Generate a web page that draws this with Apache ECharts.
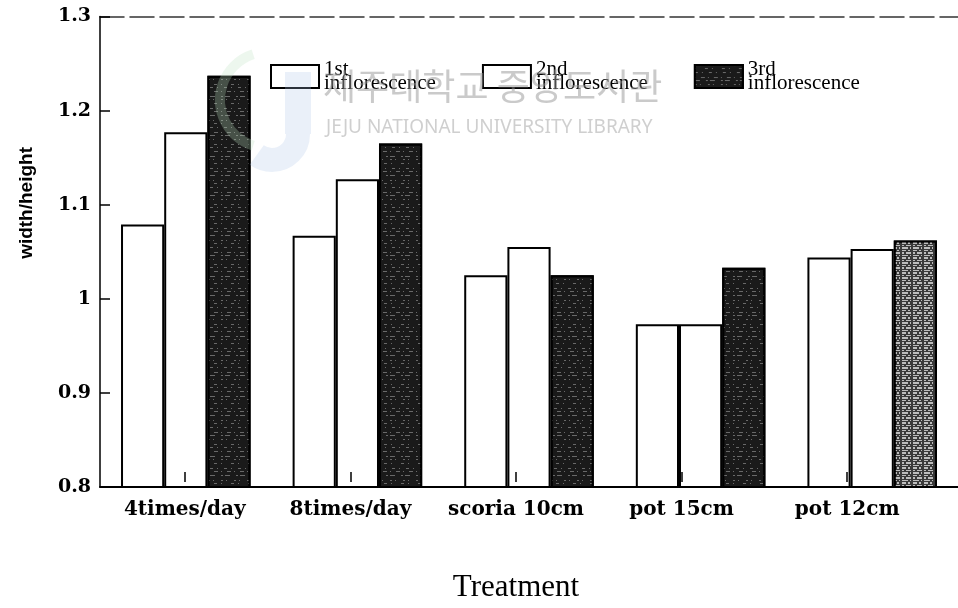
<!DOCTYPE html>
<html>
<head>
<meta charset="utf-8">
<script src="https://cdn.jsdelivr.net/npm/echarts@6/dist/echarts.min.js"></script>
<style>
html,body{margin:0;padding:0;background:#fff;}
#chart{width:958px;height:608px;}
</style>
</head>
<body>
<div id="chart"></div>
<script>
const categories = ['4times/day', '8times/day', 'scoria 10cm', 'pot 15cm', 'pot 12cm'];
const firstInflorescence = [1.079, 1.067, 1.025, 0.973, 1.044];
const secondInflorescence = [1.177, 1.127, 1.055, 0.973, 1.053];
const thirdInflorescence = [1.237, 1.165, 1.025, 1.033, 1.062];
const seriesNames = ['1st\ninflorescence', '2nd\ninflorescence', '3rd\ninflorescence'];
const yTickLabels = ['0.8', '0.9', '1', '1.1', '1.2', '1.3'];
const yAxisTitle = 'width/height';
const xAxisTitle = 'Treatment';
const watermarkKo = '제주대학교 중앙도서관';
const watermarkEn = 'JEJU NATIONAL UNIVERSITY LIBRARY';

const chart = echarts.init(document.getElementById('chart'), null, {renderer: 'canvas'});

const darkDecal = {
  symbol: 'rect', symbolSize: 1, color: 'rgba(235,235,235,0.38)',
  dashArrayX: [[3, 4, 1, 6], [1, 5, 4, 3], [5, 6, 2, 2], [2, 3, 1, 7], [1, 9, 3, 4]],
  dashArrayY: [1, 2, 1, 3, 1, 4], rotation: 0
};
const lightDecal = {
  symbol: 'rect', symbolSize: 1, color: 'rgba(245,245,245,0.7)',
  dashArrayX: [[4, 2, 2, 3], [2, 2, 5, 2], [6, 2, 1, 2]],
  dashArrayY: [1, 1, 2, 1], rotation: 0
};

const whiteBar = {color: '#ffffff', borderColor: '#000', borderWidth: 2};
const darkBar = {color: '#1a1a1a', borderColor: '#000', borderWidth: 2, decal: darkDecal};

const thirdData = thirdInflorescence.map((v, i) => i === 4
  ? {value: v, itemStyle: {color: '#3a3a3a', decal: lightDecal}}
  : v);

const serif = 'DejaVu Serif';

chart.setOption({
  animation: false,
  backgroundColor: '#ffffff',
  grid: [
    {left: 100, top: 16.5, width: 864, bottom: 121, containLabel: false},
    {left: 102, top: 16.5, width: 828, bottom: 121, containLabel: false}
  ],
  legend: {
    left: 265, top: 54,
    itemWidth: 48, itemHeight: 23, itemGap: 46,
    icon: 'rect',
    data: seriesNames,
    textStyle: {fontFamily: 'Liberation Serif', fontSize: 21, lineHeight: 14, color: '#000'}
  },
  xAxis: [
    {
      type: 'category', gridIndex: 0, data: categories,
      axisLine: {show: true, lineStyle: {color: '#000', width: 2}},
      axisTick: {show: false}, axisLabel: {show: false}, splitLine: {show: false}
    },
    {
      type: 'category', gridIndex: 1, data: categories, z: 10,
      axisLine: {show: false},
      axisTick: {show: true, alignWithLabel: true, inside: true, length: 10, interval: 0, lineStyle: {color: '#000', width: 1.5}},
      axisLabel: {show: true, interval: 0, margin: 18, fontFamily: serif, fontWeight: 'bold', fontSize: 20, color: '#000'},
      name: xAxisTitle, nameLocation: 'middle', nameGap: 90,
      nameTextStyle: {fontFamily: 'Liberation Serif', fontSize: 31, color: '#000'},
      splitLine: {show: false}
    },
    {
      type: 'category', gridIndex: 0, data: categories, position: 'top',
      axisLine: {show: true, lineStyle: {color: '#333', width: 1.5, type: [24, 6]}},
      axisTick: {show: false}, axisLabel: {show: false}, splitLine: {show: false}
    }
  ],
  yAxis: [
    {
      type: 'value', gridIndex: 0, min: 0.8, max: 1.3, interval: 0.1, z: 10,
      axisLine: {show: true, lineStyle: {color: '#000', width: 1.5}},
      axisTick: {show: true, inside: true, length: 10, lineStyle: {color: '#000', width: 1.5}},
      axisLabel: {
        show: true, margin: 9, fontFamily: serif, fontWeight: 'bold', fontSize: 19, color: '#000',
        formatter: (v) => yTickLabels[Math.round((v - 0.8) / 0.1)]
      },
      splitLine: {show: false}
    },
    {
      type: 'value', gridIndex: 1, min: 0.8, max: 1.3, interval: 0.1, show: false
    }
  ],
  series: [
    {name: seriesNames[0], type: 'bar', xAxisIndex: 0, yAxisIndex: 0, data: firstInflorescence,
     barGap: '0%', barCategoryGap: '24.5%', itemStyle: whiteBar},
    {name: seriesNames[1], type: 'bar', xAxisIndex: 0, yAxisIndex: 0, data: secondInflorescence,
     barGap: '0%', barCategoryGap: '24.5%', itemStyle: whiteBar},
    {name: seriesNames[2], type: 'bar', xAxisIndex: 0, yAxisIndex: 0, data: thirdData,
     barGap: '0%', barCategoryGap: '24.5%', itemStyle: darkBar}
  ],
  graphic: [
    {
      type: 'text', left: 17, top: 147, rotation: Math.PI / 2, z: 20,
      style: {text: yAxisTitle, fontFamily: 'Liberation Sans', fontWeight: 'bold', fontSize: 19, fill: '#000'}
    },
    {
      type: 'arc', z: 30, silent: true,
      shape: {cx: 268, cy: 100, r: 48, startAngle: Math.PI * 0.6, endAngle: Math.PI * 1.4},
      style: {stroke: 'rgba(190,225,195,0.28)', lineWidth: 10, fill: null}
    },
    {
      type: 'rect', z: 30, silent: true,
      shape: {x: 285, y: 72, width: 26, height: 62},
      style: {fill: 'rgba(170,195,230,0.25)'}
    },
    {
      type: 'arc', z: 30, silent: true,
      shape: {cx: 272, cy: 134, r: 26, startAngle: 0, endAngle: Math.PI * 0.7},
      style: {stroke: 'rgba(170,195,230,0.25)', lineWidth: 24, fill: null}
    },
    {
      type: 'text', z: 30, silent: true, x: 323, y: 86,
      style: {text: watermarkKo, fontFamily: 'Noto Sans CJK KR', fontSize: 36, fill: 'rgba(150,150,150,0.5)', verticalAlign: 'middle', align: 'left'}
    },
    {
      type: 'text', z: 30, silent: true, x: 326, y: 128,
      style: {text: watermarkEn, fontFamily: 'Noto Sans', fontSize: 19, fill: 'rgba(160,160,160,0.5)', verticalAlign: 'middle', align: 'left'}
    }
  ]
});
</script>
</body>
</html>
